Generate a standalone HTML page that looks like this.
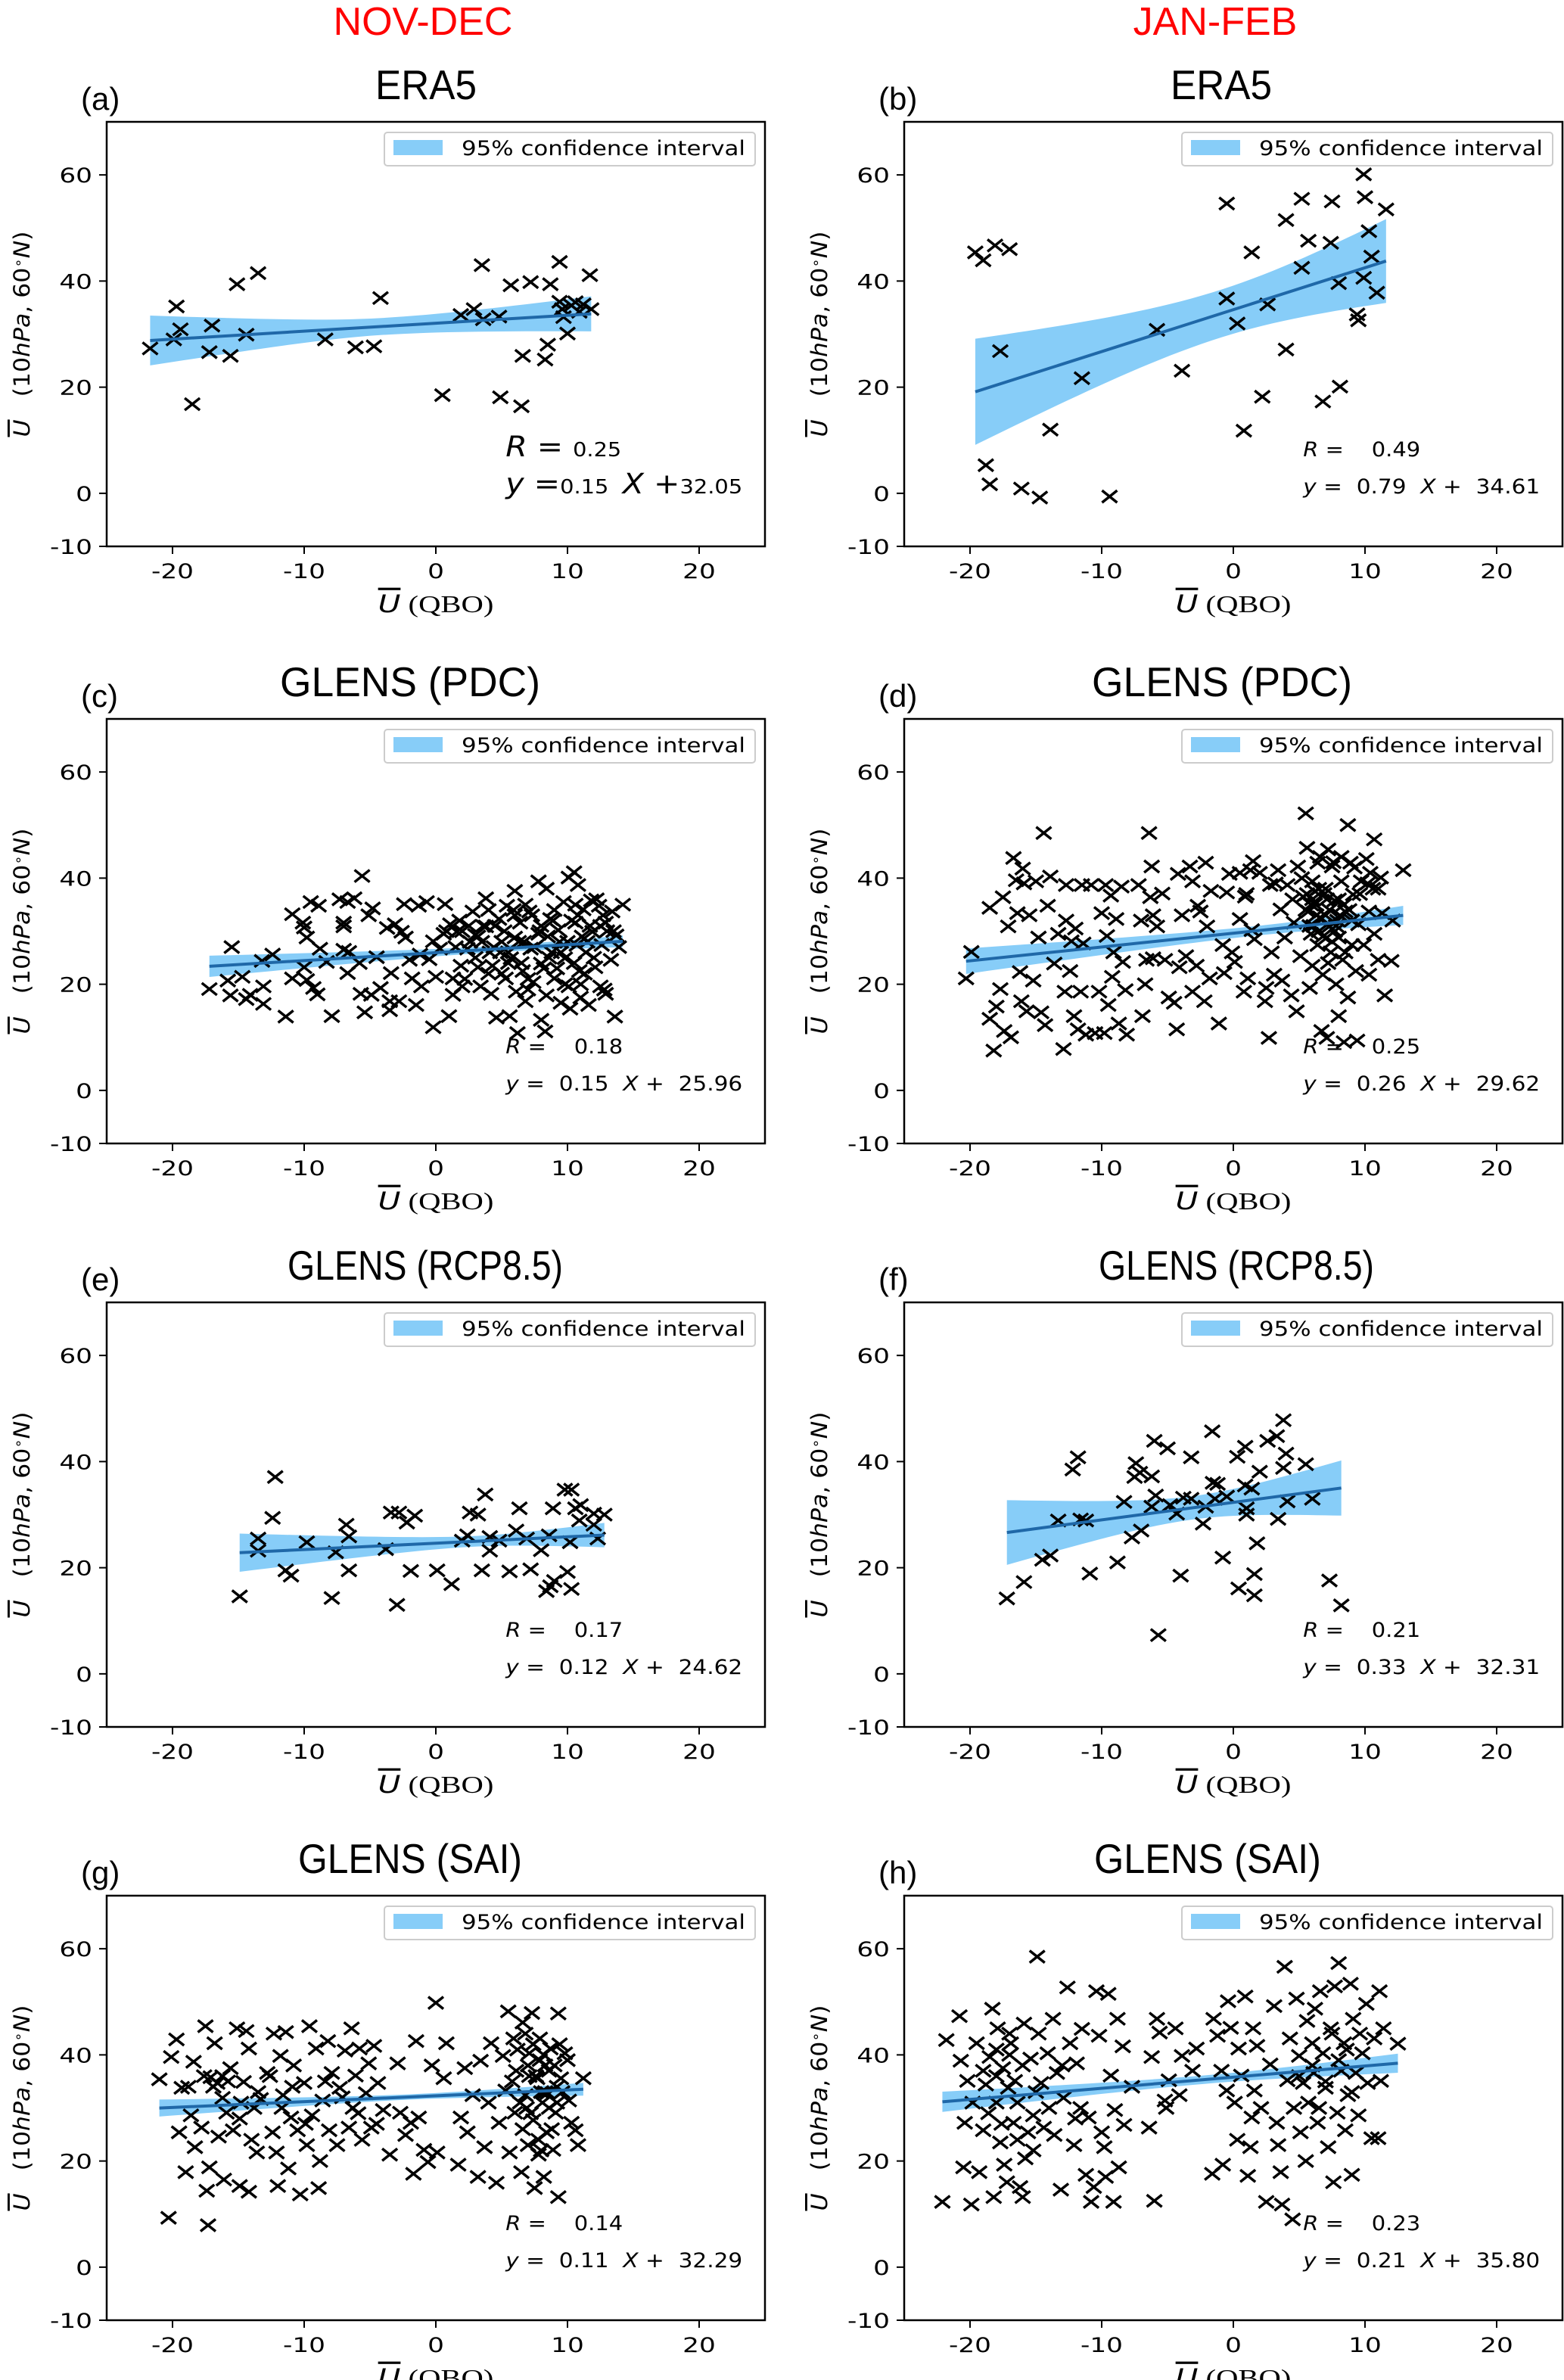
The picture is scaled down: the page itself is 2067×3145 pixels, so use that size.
<!DOCTYPE html>
<html>
<head>
<meta charset="utf-8">
<style>
html,body{margin:0;padding:0;background:#fff;}
svg{display:block;}
text{white-space:pre;}
</style>
</head>
<body>
<svg id="fig" xmlns="http://www.w3.org/2000/svg" width="2067" height="3145" viewBox="0 0 2067 3145">
<rect x="0" y="0" width="2067" height="3145" fill="#fff"/>
<text x="559" y="46" text-anchor="middle" font-family="Liberation Sans, sans-serif" font-size="52" fill="#f00">NOV-DEC</text>
<text x="1606" y="46" text-anchor="middle" font-family="Liberation Sans, sans-serif" font-size="52" fill="#f00">JAN-FEB</text>
</svg>
<script>
// ---------- data ----------
const xTicks = [-20, -10, 0, 10, 20];
const yTicks = [-10, 0, 20, 40, 60];
const yTickLabels = ["-10", "0", "20", "40", "60"];
const xTickLabels = ["-20", "-10", "0", "10", "20"];

const aQbo = [-21.7,-19.9,-19.7,-19.4,-18.5,-17.2,-17,-15.6,-15.1,-14.4,-13.5,-8.4,-6.1,-4.7,-4.2,0.5,1.9,2.9,3.5,3.6,4.8,4.9,5.7,6.6,6.5,7.2,8.3,8.5,8.7,9.4,9.4,9.6,9.7,10,10.3,10.6,10.9,11.2,11.7,11.8];
const aU   = [27.3,29,35.2,30.9,16.8,26.6,31.6,25.9,39.4,29.9,41.5,29,27.5,27.7,36.8,18.5,33.6,34.7,43,32.8,33.3,18.1,39.2,25.9,16.4,39.8,25.2,28,39.4,43.6,36.1,34.7,33.2,30.1,35.4,36,34.2,35.6,41.1,34.7];

const bQbo = [-19.6,-19,-18.1,-17,-17.7,-18.8,-18.5,-16.1,-14.7,-13.9,-11.5,-9.4,-5.8,-3.9,-0.5,-0.5,0.3,0.8,1.4,2.2,2.6,4,4,5.2,5.2,5.7,6.8,7.4,7.5,8,8.1,9.4,9.5,9.9,10,9.9,10.3,10.5,10.9,11.6];
const bU   = [45.4,43.9,46.7,46,26.8,5.3,1.7,0.9,-0.8,12,21.7,-0.6,30.8,23.1,54.6,36.7,32,11.8,45.4,18.2,35.6,27.1,51.5,42.5,55.5,47.6,17.3,47.2,55,39.6,20.1,33.7,32.6,60.1,55.8,40.6,49.4,44.6,37.8,53.5];

const cQbo = [-17.2,-15.5,-15.8,-15.6,-14.7,-14.4,-14.1,-13.1,-13.1,-13.2,-12.4,-11.4,-10.9,-10.9,-10.1,-10,-9.8,-10,-9.8,-9.5,-9.3,-9,-8.9,-8.8,-8.3,-7.9,-7.3,-7,-7,-7,-6.7,-6.6,-6.7,-6.2,-5.8,-5.6,-5.7,-5.4,-5.1,-4.8,-4.9,-4.5,-4.2,-3.7,-3.5,-3.5,-3.4,-3.1,-2.8,-2.6,-2.4,-2.3,-2,-1.8,-1.5,-1.3,-1.2,-1.1,-0.7,-0.5,-0.2,-0.2,0,0.3,0.6,0.7,1,1.1,1.3,1.3,1.6,1.9,2,2.4,2.8,3,3.2,3.4,3.8,3.8,4.1,4.2,4.3,4.6,4.8,5,5.3,5.4,5.6,5.7,6,6,6.1,6.2,6.4,6.6,6.8,7.1,7.2,7.4,7.8,7.8,8,8,8.3,8.4,8.4,8.7,8.8,9,9.3,9.5,9.7,9.8,10.1,10.1,10.2,10.5,10.6,10.7,10.8,10.9,11,11.2,11.4,11.6,11.8,11.9,12.1,12.4,12.5,12.6,12.9,12.9,13.3,13.4,13.6,13.7,13.9,14.2,3.5,4.5,5.5,6.5,7.5,8.5,9.5,10.5,11.5,12.5,2,3,4,5,6,7,8,9,10,11,12,13,1.5,2.5,6.8,9.2,10.8,12.2,0.8,1.8,2.6,3.6,4.4,5.2,5.9,6.7,7.3,7.9,8.6,9.4,10.3,11.1,11.7,12.7,13.5,4,5.5,7,8.2,9.8,11.3,12.8,3.2,6.3,8.9,10.6,2.2,4.9];
const cU   = [19.1,27,20.7,17.9,21.4,17.2,18,19.6,16.3,24.4,25.6,13.9,33.2,21.1,31.6,30.7,28.8,23.2,20.8,35.5,19.3,18.1,34.8,26.7,24.2,14,36,31.6,30.9,26.5,35.5,26.1,22.1,36.2,24,40.4,18.2,14.7,33,34.3,18,25.1,19.3,30.6,16.8,15.1,22.1,31.3,16.8,29.9,35.1,28.8,24.6,21.1,16.1,34.8,25.6,19.6,35.5,24.7,28.1,11.9,21.4,26.7,29.5,35.1,14,31.3,21.1,18,29.9,23.5,19.6,26.7,33.7,29.3,23.2,19.6,36.2,30.9,26,18.2,23.5,13.7,32.3,28,21.1,34.8,14,24.9,28.8,37.6,18.6,10.8,31.6,22.5,16.8,33.7,26.7,20.4,39.4,29.5,23.9,13.3,11.1,38,17.9,32.3,26,21.1,30.2,16.5,35.5,24.9,40.1,19.6,15.4,41.1,31.6,27.4,38.7,22.5,17.5,34.1,26,16.1,35.8,29.9,23.2,34.8,19.6,27.4,18.2,31.6,24.6,33.7,13.9,29.2,27,35,28,31,26,24,27,29,26,24,28,31,30,25,34,22,33,19,31,34,28,20,25,30,27,31,35,23,33,36,30,32,28,31,27,30,34,28,33,30,25,28,32,29,31,33,30,22,24,21,23,20,22,19,29,28,32,35,21,26];

const dQbo = [-20.3,-19.9,-18.5,-18.5,-18.2,-18,-17.5,-17.7,-17.4,-16.9,-17.1,-16.7,-16.5,-16.4,-16.2,-16.1,-16,-15.9,-15.7,-15.5,-15.2,-15,-14.8,-14.6,-14.4,-14.3,-14.1,-13.9,-13.6,-13.3,-12.9,-12.8,-12.7,-12.7,-12.4,-12.3,-12.1,-12,-11.8,-11.6,-11.5,-11.4,-11.2,-10.8,-10.5,-10.2,-10,-9.8,-9.7,-9.6,-9.5,-9.3,-9.2,-9.1,-8.9,-8.7,-8.5,-8.4,-8.2,-8.1,-7.2,-7,-6.9,-6.7,-6.6,-6.4,-6.3,-6.2,-6.1,-6.1,-5.8,-5.4,-5.2,-4.9,-4.5,-4.3,-4.2,-4.1,-3.9,-3.6,-3.3,-3.1,-3.1,-2.8,-2.7,-2.5,-2.2,-2.1,-2,-1.8,-1.7,-1.1,-0.8,-0.7,-0.5,-0.3,-0.1,0.1,0.5,0.8,0.9,1.1,1.3,1.4,1.5,1.6,2.4,2.5,2.7,2.8,2.9,3.1,3.4,3.6,3.7,3.9,4.1,4.4,4.6,4.8,4.9,5.1,5.3,5.5,5.6,5.7,5.8,5.9,6,6,6.2,6.4,6.4,6.6,6.7,6.8,7,7.1,7.2,7.3,7.4,7.5,7.7,7.8,8,8,8.2,8.3,8.4,8.5,8.7,8.7,8.9,9,9.1,9.3,9.4,9.5,9.7,9.9,10.1,10.3,10.3,10.6,10.7,10.7,11,11.2,11.3,11.5,12,12.1,12.9,5.5,6,6.5,7,7.5,8,8.5,9,6.2,7.2,8.8,5.8,6.8,7.8,9.6,10.4,5.2,6.6,7.6,8.2,9.2,10.2,11,4.5,3.2,2,1,0.5,5.9,6.3,6.9,7.3,7.9,8.4,6.1,7.1,8.1,6.5,7.7,5.6];
const dU   = [21.1,26.1,34.4,13.5,7.5,15.8,36.4,19.1,11.2,10,30.9,43.8,39.6,33.4,22.3,16.8,41.8,39,14.9,33,20.7,39.4,28.8,14.7,48.5,12.3,34.8,40.3,23.9,29.5,7.8,18.6,38.7,32,22.5,28.1,14,30.5,11.5,18.6,38.7,27.7,10.5,38.7,10.8,18.6,33.4,10.8,38.7,29.1,16.1,36.7,21.4,26,32.3,12.6,38.4,24.2,18.9,10.5,38.7,32,14,20,24.6,48.5,36.4,42.2,33,24.9,30.9,37.1,24.6,17.5,16.5,11.5,40.8,23.2,33,25.3,42.2,18.6,39.4,23.5,34.8,33.7,16.8,42.9,30.9,21.1,37.6,12.6,27.4,22.1,37.3,40.8,26,24.2,32.3,18.6,36.5,21.1,41.5,30.2,43.2,28.5,16.8,19.3,9.9,38.7,26,21.8,41.5,34.1,20.7,28.8,38.7,17.9,31.6,14.9,42.2,25.3,36.5,52.2,45.7,33.7,19.3,29.5,39.4,23.5,35.1,42.9,27.4,32.6,11.2,21.8,38,9.9,45.4,30.9,26,42.2,35.8,20,14,28.8,39.4,24.6,9.1,33.7,50,17.5,42.9,27.4,36.9,22.5,9.4,31.3,39.4,27.4,43.6,33.7,21.8,38,47.3,29.5,24.6,40.1,33.4,17.9,24.4,32,41.5,34,36,30,33,28,36,26,32,37.5,24,34,31,29,31,37,41,40,44,43,44,42,39,38,36,39,41,37,41,35,33,37,34,32,35,31,36,33,38,30,37];

const eQbo = [-14.9,-12.2,-12.4,-13.5,-13.5,-11.4,-11,-9.8,-7.9,-7.6,-6.8,-6.6,-6.6,-3.8,-3.4,-2.8,-2.95,-2.2,-1.6,-1.9,0.1,1.2,2,2.4,2.6,3.2,3.75,3.5,4.1,4.1,4.8,5.6,6.1,6.35,6.9,7.2,8,8.6,8.9,8.4,8.7,9,10,10.3,9.8,10.3,10.2,10.6,11,10.9,12,12,12.3,12.8];
const eU   = [14.6,37.1,29.4,25.5,23.2,19.5,18.5,24.8,14.3,22.9,28.1,25.9,19.5,23.5,30.4,30.4,13,28.5,29.8,19.4,19.5,16.9,25.1,26.1,30.4,30,33.8,19.5,25.8,23.2,25.1,19.3,27,31.2,25.5,19.7,23.3,26.1,31.2,15.6,16.5,17.5,19.2,16,34.7,34.7,24.8,31.2,31.8,28.9,30.2,28.1,25.5,30];

const fQbo = [-17.2,-15.9,-14.5,-13.9,-13.3,-12.2,-11.8,-11.6,-11.2,-10.9,-8.8,-8.3,-7.7,-7.5,-7.4,-7.1,-7,-6.2,-6.2,-6,-5.9,-5.7,-5,-4.8,-4.3,-4,-3.8,-3.2,-3.2,-2.3,-2.1,-1.6,-1.55,-1.2,-1.4,-0.8,-0.5,0.3,0.4,0.9,0.9,1,1,1.4,1.6,1.6,1.8,2,2.6,3.3,3.4,3.8,3.8,4,4.1,5.5,6,7.3,8.2];
const fU   = [14.2,17.3,21.5,22.3,28.9,38.5,40.8,29.1,28.9,18.9,21,32.4,25.7,37.1,39.7,37.9,27,37.2,31.5,43.9,33.6,7.3,42.5,31.8,30.2,18.5,33.2,33,40.8,28.3,31.5,45.7,36,35.8,33,21.9,33.4,40.9,16.1,35.5,42.8,31.2,30,34.9,18.8,14.8,24.6,38.1,43.9,44.8,29.2,47.8,38.8,41.5,32.5,39.5,33,17.6,12.9];

const gQbo = [-21,-20.3,-20.1,-19.7,-19.5,-19.3,-19,-18.6,-18.4,-18.3,-17.8,-17.5,-17.4,-17.3,-17.2,-17.1,-16.8,-16.6,-16.5,-16.2,-16.1,-15.9,-15.6,-15.4,-15.1,-14.9,-14.8,-14.6,-14.4,-14.2,-14.2,-14,-13.8,-13.6,-13.3,-12.8,-12.4,-12.3,-12.1,-12,-11.8,-11.6,-11.4,-11.2,-11,-10.8,-10.5,-10.3,-10,-9.8,-9.6,-9.4,-9.1,-8.9,-8.8,-8.6,-8.2,-8.1,-7.9,-7.5,-7.3,-6.9,-6.6,-6.4,-6.3,-6.1,-5.8,-5.6,-5.3,-5.1,-4.9,-4.7,-4.4,-4,-3.5,-2.9,-2.7,-2.3,-1.9,-1.7,-1.5,-1.3,-0.9,-0.6,-0.3,0,0.1,0.6,0.8,1.7,1.9,2.2,2.4,2.8,3.2,3.4,3.7,4,4.2,4.6,4.8,5.1,5.3,5.5,5.6,5.9,6,6.1,6.5,6.6,6.8,7,7.1,7.3,7.4,7.5,7.7,7.8,7.9,8.1,8.2,8.3,8.4,8.5,8.7,8.9,9.1,9.3,9.3,9.5,9.8,10.1,10.3,10.6,10.8,11.2,6.2,7,7.6,8,8.6,9,9.4,6.4,7.2,8.8,6.8,7.4,8.2,5.8,9.6,10,7.8,8,6.6,9.2,-17.6,-16.9,-15.8,-14.9,-13.5,-12.6,-11.7,-10.9,-9.9,-8.4,-7.1,-5.9,-4.5,-18.8,-16.2,7.1,7.9,8.6,9.2,6.9,8.3];
const gU   = [35.4,9.3,39.6,42.9,25.4,33.8,17.9,28.6,38.7,22.6,26.3,45.4,14.4,7.9,18.8,35.8,42.2,34.7,24.6,31.9,16.5,29.1,37.5,25.8,45,15.3,31,34.9,44.5,41.2,14.2,24,30,21.6,31.7,36.6,25.4,44,21.6,15.3,39.8,32.4,44.3,18.6,28.2,38,25.8,13.7,34.7,23,45.4,28.6,41.2,14.9,20,31.4,42.6,25.8,36.6,23,33.8,40.8,26.3,45,30,36.1,41.2,24,32.8,38.4,26.3,41.7,34.7,29.6,21.2,38.4,29.1,24.9,27.2,17.6,42.6,28.2,22.1,19.8,38,49.8,21.6,35.6,42.2,19.3,28.2,37.5,25.4,32.4,17,38.9,22.6,31,42.2,15.9,27.2,39.8,33.3,48.2,21.6,43.1,29.1,37,17.9,46.1,32.4,23,40.3,47.9,27.7,14.9,35.6,21.2,43.1,31,17,38,25.4,32.8,41.2,22.1,29.1,47.8,13.2,35.6,40.3,31.4,27.2,25.8,23,35.6,41,38,36,33,30,38,42,31,29,26,44,42,40,35,33,39,24,22,26,31,36,34,35,28,33,36,30,34,27,35,32,29,27,34,36,36,39,37,34,30,33];

const hQbo = [-22.1,-21.8,-20.8,-20.7,-20.5,-20.4,-20.2,-19.9,-19.8,-19.5,-19.3,-19,-18.8,-18.5,-18.3,-18.2,-18,-17.9,-17.7,-17.5,-17.4,-17.2,-17.1,-16.9,-16.7,-16.6,-16.4,-16.2,-16,-15.9,-15.8,-15.6,-15.4,-15.2,-14.9,-14.8,-14.6,-14.4,-14.1,-13.7,-13.6,-13.4,-13.1,-12.9,-12.6,-12.4,-12.1,-11.9,-11.6,-11.5,-11.2,-11,-10.8,-10.6,-10.4,-10.2,-10,-9.8,-9.7,-9.5,-9.3,-9.1,-9,-8.8,-8.7,-8.4,-8.3,-7.7,-6.4,-6.2,-6,-5.8,-5.6,-5.2,-5.1,-4.9,-4.4,-4.1,-3.9,-3.1,-2.8,-1.6,-1.5,-1.2,-0.9,-0.8,-0.5,-0.4,-0.2,0.1,0.3,0.4,0.6,0.9,1.1,1.3,1.4,1.5,1.6,1.8,2.1,2.5,2.8,3.1,3.3,3.4,3.6,3.7,3.9,4.1,4.3,4.5,4.6,4.8,5,5.1,5.3,5.5,5.6,5.7,6,6.1,6.2,6.4,6.6,6.8,7,7.2,7.4,7.6,7.7,7.9,8,8.2,8.4,8.5,8.7,8.9,9,9.1,9.3,9.5,9.8,10.1,10.2,10.5,10.7,11,11.1,11.2,11.4,12.5,-18,-17,-16,-15,-19,-18.6,-17.6,-16.4,-15.2,-14,-13,-12,-17,-18,6,7,8,9,6.5,7.5,8.6,5,9.6];
const hU   = [12.3,42.8,47.3,38.9,18.8,27.2,35.1,11.8,31,42.2,17.9,25.8,34.4,39.6,48.7,13.2,31,45,23.5,37.5,19.3,16,33.8,42.2,27.2,35.1,31,15.1,13.2,45.9,20.5,25.4,39.3,28.6,58.5,44,34.7,26.3,40.3,46.8,24.9,36.6,14.6,31.9,52.7,42.2,23,38.4,30,44.9,17.4,28.2,12.3,15.1,52,43.6,25.4,22.6,17,51.5,36.1,12.3,29.6,46.8,18.8,41.6,26.8,34,26.3,39.6,12.5,46.8,44.2,31.4,30,35.2,45,32.4,39.8,37,41.2,17.6,46.8,43.6,37,19.3,33.3,50.1,45.1,31,24,41.2,36.1,51,17.2,22.6,28.2,45,33.3,41.7,30,12.3,38.2,49.2,27.2,23,17.9,11.8,56.6,35.2,43.1,9,30,50.6,39.8,25.4,34.7,20,46.4,31,42.2,36.6,48.7,27.2,52,40.3,33.8,22.6,45,16,52.9,29.1,57.3,37,42.2,25.8,32.4,53.4,17.4,46.8,36.6,28.6,40.3,49.6,34.7,24.3,43.1,24.3,52,35.1,45,42.1,36,40,38,33,37,29,27,24,22,30,38,28,44,41,38,35,39,33,30,44,41,36,44];

// regression + confidence-interval half widths [left, min, right] and x of the narrowest point
const slopes     = [0.15, 0.79, 0.15, 0.26, 0.12, 0.33, 0.11, 0.21];
const intercepts = [32.05, 34.61, 25.96, 29.62, 24.62, 32.31, 32.29, 35.80];
const ciHalf = [[4.7,1.6,3.3],[10,4.5,7.9],[2,0.6,1.1],[2.4,0.9,1.8],[3.6,1.0,2.3],[6.1,2.2,5.2],[1.6,0.5,1.2],[1.9,0.8,1.8]];
const ciCenter = [-4, -1, 4, 2, 3, -3, -2, -2];
const rValues = ["0.25","0.49","0.18","0.25","0.17","0.21","0.14","0.23"];
const titles = ["ERA5","ERA5","GLENS (PDC)","GLENS (PDC)","GLENS (RCP8.5)","GLENS (RCP8.5)","GLENS (SAI)","GLENS (SAI)"];
const letters = ["a","b","c","d","e","f","g","h"];
const qboSeries = [aQbo,bQbo,cQbo,dQbo,eQbo,fQbo,gQbo,hQbo];
const uSeries = [aU,bU,cU,dU,eU,fU,gU,hU];

// ---------- layout ----------
const colLeft = [141, 1195];
const rowTop = [161, 950, 1721, 2505];
const titleCenterX = [563, 1614, 542, 1615, 562, 1634, 542, 1596];
const titleWidth = [134, 134, 344, 344, 364, 364, 296, 300];
const axW = 870, axH = 561;
const XMIN = -25, XMAX = 25, YMIN = -10, YMAX = 70;
const SX = 1.27;
const NS = "http://www.w3.org/2000/svg";
const svg = document.getElementById("fig");

function mk(tag, attrs, parent) {
  const el = document.createElementNS(NS, tag);
  for (const k in attrs) el.setAttribute(k, attrs[k]);
  (parent || svg).appendChild(el);
  return el;
}
function fmt(n){ return n.toFixed(2); }

for (let p = 0; p < 8; p++) {
  const L = colLeft[p % 2], T = rowTop[Math.floor(p / 2)];
  const xs = v => L + (v - XMIN) / (XMAX - XMIN) * axW;
  const ys = v => T + (YMAX - v) / (YMAX - YMIN) * axH;
  const xsArr = qboSeries[p], ysArr = uSeries[p];

  const g = mk("g", {});
  
  

  const clipId = "clip" + p;
  const cp = mk("clipPath", {id: clipId}, g);
  mk("rect", {x: L, y: T, width: axW, height: axH}, cp);

  const xmin = Math.min(...xsArr), xmax = Math.max(...xsArr);
  const xc = ciCenter[p], hc = ciHalf[p];
  const half = x => {
    const side = x < xc ? 0 : 2;
    const xe = x < xc ? xmin : xmax;
    const t = (x - xc) / (xe - xc || 1);
    return Math.sqrt(hc[1]*hc[1] + (hc[side]*hc[side] - hc[1]*hc[1]) * t * t);
  };
  const lineY = x => intercepts[p] + slopes[p] * x;
  let up = [], lo = [];
  const N = 40;
  for (let i = 0; i <= N; i++) {
    const x = xmin + (xmax - xmin) * i / N;
    up.push(fmt(xs(x)) + "," + fmt(ys(lineY(x) + half(x))));
    lo.unshift(fmt(xs(x)) + "," + fmt(ys(lineY(x) - half(x))));
  }
  const band = mk("polygon", {points: up.concat(lo).join(" "), fill: "#87cdf8", stroke: "none", "clip-path": "url(#" + clipId + ")"}, g);
  
  

  for (let i = 0; i < xsArr.length; i++) {
    const cx = xs(xsArr[i]), cy = ys(ysArr[i]);
    const sx = 10, sy = 8;
    const m = mk("path", {d: `M${fmt(cx-sx)} ${fmt(cy-sy)}L${fmt(cx+sx)} ${fmt(cy+sy)}M${fmt(cx-sx)} ${fmt(cy+sy)}L${fmt(cx+sx)} ${fmt(cy-sy)}`, stroke: "#000", "stroke-width": 3.5, fill: "none", "clip-path": "url(#" + clipId + ")"}, g);
    
    
  }

  const rl = mk("line", {x1: xs(xmin), y1: ys(lineY(xmin)), x2: xs(xmax), y2: ys(lineY(xmax)), stroke: "#1f68a8", "stroke-width": 4}, g);
  
  

  const fr = mk("rect", {x: L, y: T, width: axW, height: axH, fill: "none", stroke: "#000", "stroke-width": 2.5}, g);
  
  

  for (let i = 0; i < yTicks.length; i++) {
    const y = ys(yTicks[i]);
    const tk = mk("line", {x1: L - 10, y1: y, x2: L, y2: y, stroke: "#000", "stroke-width": 2}, g);
    
    
    const tl = mk("text", {transform: `translate(${L - 19},${fmt(y + 10)}) scale(${SX},1)`, "text-anchor": "end", "font-family": "DejaVu Sans, sans-serif", "font-size": 27, fill: "#000"}, g);
    tl.textContent = yTickLabels[i];
    
    
  }
  for (let i = 0; i < xTicks.length; i++) {
    const x = xs(xTicks[i]);
    const tk = mk("line", {x1: x, y1: T + axH, x2: x, y2: T + axH + 10, stroke: "#000", "stroke-width": 2}, g);
    
    
    const tl = mk("text", {transform: `translate(${fmt(x)},${T + axH + 42}) scale(${SX},1)`, "text-anchor": "middle", "font-family": "DejaVu Sans, sans-serif", "font-size": 27, fill: "#000"}, g);
    tl.textContent = xTickLabels[i];
    
    
  }

  const xt = mk("text", {transform: `translate(${L + axW / 2},${T + axH + 87}) scale(${SX},1)`, "text-anchor": "middle", "font-family": "Liberation Serif, serif", "font-size": 32, fill: "#000"}, g);
  xt.innerHTML = '<tspan font-family="DejaVu Sans, sans-serif" font-style="italic" style="text-decoration:overline">U</tspan> (QBO)';
  
  

  const yt = mk("text", {transform: `translate(${L - 102},${T + axH / 2}) rotate(-90)`, "text-anchor": "middle", "font-family": "DejaVu Sans, sans-serif", "font-size": 29, fill: "#000", textLength: 272, lengthAdjust: "spacingAndGlyphs"}, g);
  yt.innerHTML = '<tspan font-style="italic" style="text-decoration:overline">U</tspan>   (10<tspan font-style="italic">hPa</tspan>, 60<tspan font-size="18" dy="-9">∘</tspan><tspan dy="9" font-style="italic">N</tspan>)';
  
  

  const lg = mk("g", {}, g);
  
  
  const lb = mk("rect", {x: L + 367, y: T + 14, width: 490, height: 44, rx: 4, fill: "#fff", "fill-opacity": 0.8, stroke: "#cccccc", "stroke-width": 2}, lg);
  
  
  const lp = mk("rect", {x: L + 379, y: T + 24, width: 65, height: 20, fill: "#87cdf8"}, lg);
  
  
  const lt = mk("text", {x: L + 469, y: T + 44, "font-family": "DejaVu Sans, sans-serif", "font-size": 27, fill: "#000", textLength: 375, lengthAdjust: "spacingAndGlyphs"}, lg);
  lt.textContent = "95% confidence interval";
  
  

  const ax = xs(5.3);
  if (p === 0) {
    const r = mk("text", {x: ax, y: ys(7), "font-family": "DejaVu Sans, sans-serif", "font-size": 37, fill: "#000", textLength: 153, lengthAdjust: "spacingAndGlyphs"}, g);
    r.innerHTML = '<tspan font-style="italic">R</tspan> = <tspan font-size="26">' + rValues[p] + '</tspan>';
    
    
    const e = mk("text", {x: ax, y: ys(0), "font-family": "DejaVu Sans, sans-serif", "font-size": 37, fill: "#000", textLength: 313, lengthAdjust: "spacingAndGlyphs"}, g);
    e.innerHTML = '<tspan font-style="italic">y</tspan> =<tspan font-size="26">' + slopes[p].toFixed(2) + '  </tspan><tspan font-style="italic">X</tspan> +<tspan font-size="26">' + intercepts[p].toFixed(2) + '</tspan>';
    
    
  } else {
    const r = mk("text", {x: ax, y: ys(7), "font-family": "DejaVu Sans, sans-serif", "font-size": 27, fill: "#000", textLength: 155, lengthAdjust: "spacingAndGlyphs"}, g);
    r.innerHTML = '<tspan font-style="italic">R</tspan> =    ' + rValues[p];
    
    
    const e = mk("text", {x: ax, y: ys(0), "font-family": "DejaVu Sans, sans-serif", "font-size": 27, fill: "#000", textLength: 313, lengthAdjust: "spacingAndGlyphs"}, g);
    e.innerHTML = '<tspan font-style="italic">y</tspan> =  ' + slopes[p].toFixed(2) + '  <tspan font-style="italic">X</tspan> +  ' + intercepts[p].toFixed(2);
    
    
  }

  const tw = titleWidth[p];
  const ti = mk("text", {x: titleCenterX[p] - tw / 2, y: T - 30, "font-family": "Liberation Sans, sans-serif", "font-size": 55, fill: "#000", textLength: tw, lengthAdjust: "spacingAndGlyphs"}, g);
  ti.textContent = titles[p];
  
  
  const le = mk("text", {x: L - 34, y: T - 16, "font-family": "Liberation Sans, sans-serif", "font-size": 42, fill: "#000"}, g);
  le.textContent = "(" + letters[p] + ")";
  
  
}
</script>
</body>
</html>
